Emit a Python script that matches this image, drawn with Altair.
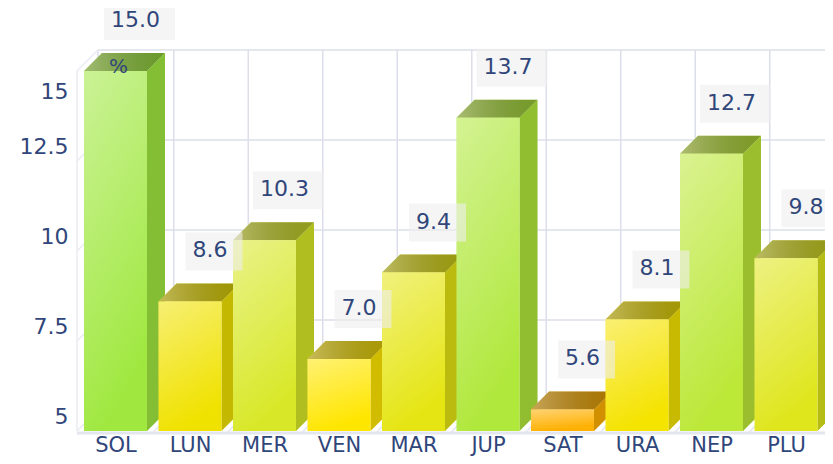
import altair as alt
import pandas as pd

# ---------------- data ----------------
categories = ["SOL", "LUN", "MER", "VEN", "MAR", "JUP", "SAT", "URA", "NEP", "PLU"]
values = [15.0, 8.6, 10.3, 7.0, 9.4, 13.7, 5.6, 8.1, 12.7, 9.8]
y_ticks = [5, 7.5, 10, 12.5, 15]
unit_label = "%"
baseline = 5.0

# colour ramp keyed by value
color_domain = [5.6, 7.0, 8.6, 10.3, 12.7, 15.0]
color_range = ["#ffb000", "#ffe600", "#f0e200", "#d8e828", "#bce838", "#a0e840"]

# ---------------- layout (pixels) ----------------
PITCH = 74.5          # px per category
BAR_PX = 63
DEPTH_PX = 18
WALL_PX = 21
PX_PER_UNIT = 36
FIRST_BAR_PX = 7
PLOT_W = 748
PLOT_H = 428
BOTTOM_GAP_PX = 5
TEXT_COLOR = "#30467a"
FONT = "DejaVu Sans"

BW = BAR_PX / PITCH
DX = DEPTH_PX / PITCH
DY = DEPTH_PX / PX_PER_UNIT
WX = WALL_PX / PITCH
WY = WALL_PX / PX_PER_UNIT
x_lo = -FIRST_BAR_PX / PITCH
x_hi = x_lo + PLOT_W / PITCH
y_lo = baseline - BOTTOM_GAP_PX / PX_PER_UNIT
y_hi = y_lo + PLOT_H / PX_PER_UNIT

xs = alt.Scale(domain=[x_lo, x_hi], nice=False, zero=False)
ys = alt.Scale(domain=[y_lo, y_hi], nice=False, zero=False)
cs = alt.Scale(domain=color_domain, range=color_range, interpolate="rgb")

x_axis = alt.Axis(
    values=[i + BW / 2 for i in range(len(categories))],
    labelExpr=str(categories) + "[round(datum.value - %f)]" % (BW / 2),
    labelFontSize=21, labelColor=TEXT_COLOR, labelFont=FONT, labelPadding=0, offset=-2,
    labelFlush=False, labelOverlap=False, domain=False, ticks=False, tickSize=0,
    grid=False, title=None)
y_axis = alt.Axis(
    values=y_ticks, labelExpr="'' + datum.value", labelFontSize=22, labelColor=TEXT_COLOR,
    labelFont=FONT, labelPadding=9, labelFlush=False, labelOverlap=False, domain=False,
    ticks=False, tickSize=0, grid=False,
    labelOffset={"condition": {"test": "datum.value == 15", "value": 20}, "value": -15},
    title=unit_label, titleAngle=0, titleX=41, titleY=58, titleAlign="center",
    titleBaseline="middle", titleFontSize=20, titleFontWeight="normal",
    titleColor=TEXT_COLOR, titleFont=FONT, zindex=1)


def X(f):
    return alt.X(f, type="quantitative", scale=xs, axis=x_axis)


def Y(f):
    return alt.Y(f, type="quantitative", scale=ys, axis=y_axis)


COL = alt.Color("val:Q", scale=cs, legend=None)

# ---------------- tables built from the data ----------------
front_rows, side_rows, top_rows, lab_rows = [], [], [], []
char_w = {".": 0.318}
for i, (c, v) in enumerate(zip(categories, values)):
    L, R = i, i + BW
    front_rows.append(dict(cat=c, val=v, x=L, x2=R, y=baseline, y2=v))
    side_rows += [
        dict(cat=c, val=v, x=R, y=v, y2=baseline),
        dict(cat=c, val=v, x=R + DX, y=v + DY, y2=baseline + DY),
    ]
    top_rows += [
        dict(cat=c, val=v, x=L, y=v, y2=v),
        dict(cat=c, val=v, x=L + DX, y=v + DY, y2=v),
        dict(cat=c, val=v, x=R, y=v + DY, y2=v),
        dict(cat=c, val=v, x=R + DX, y=v + DY, y2=v + DY),
    ]
    txt = f"{v:.1f}"
    tw = sum(char_w.get(ch, 0.636) for ch in txt) * 22
    tx = i + BW / 2 + DX + 2 / PITCH
    ty = v + DY + 33 / PX_PER_UNIT
    bc = tx + 4 / PITCH
    lab_rows.append(dict(cat=c, val=v, text=txt, tx=tx, ty=ty,
                         bx=bc - (tw / 2 + 11) / PITCH, bx2=bc + (tw / 2 + 11) / PITCH,
                         by=ty + 18 / PX_PER_UNIT, by2=ty - 20 / PX_PER_UNIT))

front = pd.DataFrame(front_rows)
side = pd.DataFrame(side_rows)
top = pd.DataFrame(top_rows)
labs = pd.DataFrame(lab_rows)

hgrid = pd.DataFrame(dict(x=[x_lo + WX] * len(y_ticks), x2=[x_hi] * len(y_ticks),
                          y=[t + WY for t in y_ticks]))
gaps = [i + (1 + BW) / 2 for i in range(len(categories) - 1)]
vgrid = pd.DataFrame(dict(x=[x_lo + WX] + [g + WX for g in gaps],
                          y=baseline + WY, y2=max(y_ticks) + WY))
lwall = pd.DataFrame(dict(x=[x_lo] * len(y_ticks), x2=[x_lo + WX] * len(y_ticks),
                          y=y_ticks, y2=[t + WY for t in y_ticks]))
ledge = pd.DataFrame(dict(x=[x_lo], y=[baseline], y2=[max(y_ticks)]))
floor_line = pd.DataFrame(dict(x=[x_lo], x2=[x_hi], y=[baseline - 2 / PX_PER_UNIT]))
floor_ticks = pd.DataFrame(dict(x=gaps, x2=[g + WX for g in gaps],
                                y=baseline - 2 / PX_PER_UNIT, y2=baseline + WY))

GRID = "#dcdfe9"

l_hgrid = alt.Chart(hgrid).mark_rule(color=GRID, strokeWidth=1.5).encode(
    x=X("x"), x2="x2", y=Y("y"))
l_vgrid = alt.Chart(vgrid).mark_rule(color=GRID, strokeWidth=1.5).encode(
    x=X("x"), y=Y("y"), y2="y2")
l_lwall = alt.Chart(lwall).mark_rule(color="#e9ebf1", strokeWidth=1.5).encode(
    x=X("x"), x2="x2", y=Y("y"), y2="y2")
l_ledge = alt.Chart(ledge).mark_rule(color="#e9ebf1", strokeWidth=1.5).encode(
    x=X("x"), y=Y("y"), y2="y2")
l_floor = alt.Chart(floor_line).mark_rule(color="#e3e6ee", strokeWidth=3).encode(
    x=X("x"), x2="x2", y=Y("y"))
l_floor_t = alt.Chart(floor_ticks).mark_rule(color="#e3e6ee", strokeWidth=1.5).encode(
    x=X("x"), x2="x2", y=Y("y"), y2="y2")

# bar faces
l_side = alt.Chart(side).mark_area(interpolate="linear", opacity=1).encode(
    x=X("x"), y=Y("y"), y2="y2", detail="cat:N", color=COL)
l_side_o = alt.Chart(side).mark_area(interpolate="linear", color="#000000", opacity=0.18).encode(
    x=X("x"), y=Y("y"), y2="y2", detail="cat:N")

l_top = alt.Chart(top).mark_area(interpolate="linear", opacity=1).encode(
    x=X("x"), y=Y("y"), y2="y2", detail="cat:N", color=COL)
top_grad = alt.Gradient(
    gradient="linear", x1=0, y1=0, x2=1, y2=0,
    stops=[alt.GradientStop(color="rgba(165,160,150,0.6)", offset=0),
           alt.GradientStop(color="rgba(0,0,0,0.33)", offset=1)])
l_top_o = alt.Chart(top).mark_area(interpolate="linear", color=top_grad).encode(
    x=X("x"), y=Y("y"), y2="y2", detail="cat:N")

l_front = alt.Chart(front).mark_rect(opacity=1).encode(
    x=X("x"), x2="x2", y=Y("y"), y2="y2", color=COL)
front_grad = alt.Gradient(
    gradient="linear", x1=0, y1=0, x2=0.3, y2=1,
    stops=[alt.GradientStop(color="rgba(255,255,255,0.45)", offset=0),
           alt.GradientStop(color="rgba(255,255,255,0)", offset=1)])
l_front_o = alt.Chart(front).mark_rect(color=front_grad).encode(
    x=X("x"), x2="x2", y=Y("y"), y2="y2")

l_box = alt.Chart(labs).mark_rect(color="#eeeeee", opacity=0.6).encode(
    x=X("bx"), x2="bx2", y=Y("by"), y2="by2")
l_text = alt.Chart(labs).mark_text(fontSize=22, font=FONT, color=TEXT_COLOR,
                                   baseline="middle", align="center").encode(
    x=X("tx"), y=Y("ty"), text="text:N")

chart = alt.layer(
    l_hgrid, l_vgrid, l_lwall, l_ledge, l_floor, l_floor_t,
    l_side, l_side_o, l_top, l_top_o, l_front, l_front_o, l_box, l_text
).properties(
    width=PLOT_W, height=PLOT_H, autosize="none",
    padding={"left": 69, "top": 0, "right": 0, "bottom": 20},
    background="white",
).configure_view(stroke=None)

chart.save("out.html", embed_options={"renderer": "svg", "actions": False})
